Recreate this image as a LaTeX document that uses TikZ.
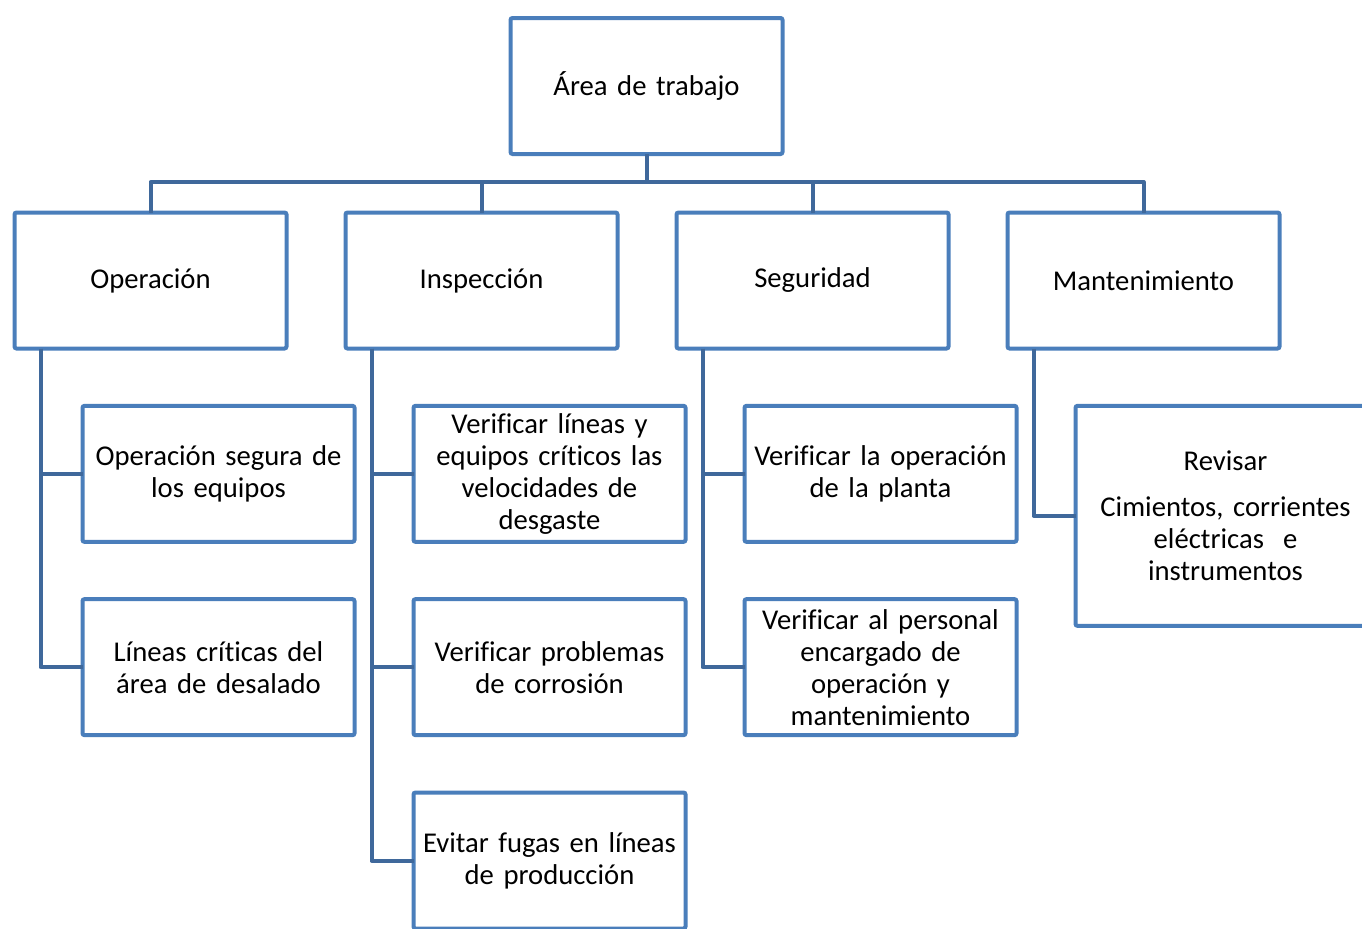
\documentclass[tikz,border=0pt]{standalone}
\usepackage{fontspec}
\setmainfont{Carlito}[Ligatures=NoCommon]
\usetikzlibrary{positioning}

\definecolor{boxblue}{RGB}{74,126,187}
\definecolor{linkblue}{RGB}{63,104,155}

\tikzset{
  box/.style={draw=boxblue, line width=3pt, rounded corners=1.5pt, fill=white,
    minimum width=204pt, minimum height=102pt, outer sep=0pt, inner xsep=0pt,
    align=center, text width=200pt, font=\fontsize{21.5pt}{24pt}\selectfont},
  link/.style={draw=linkblue, line width=3pt, line join=round},
}

\begin{document}
\begin{tikzpicture}[x=0.75pt, y=-0.75pt]
  \path[use as bounding box, clip] (0,0) rectangle (1362,928);

  % top
  \node[box] (area) at (646.5,86) {Área de trabajo};

  % second row
  \node[box] (oper) at (150.5,280.5) {Operación};
  \node[box, right=44.25pt of oper] (insp) {Inspección};
  \node[box, right=44.25pt of insp] (segu) {Seguridad};
  \node[box, right=44.25pt of segu] (mant) {Mantenimiento};

  % operacion
  \node[box, below right=43pt and -153pt of oper] (op1) {Operación segura de\\los equipos};
  \node[box, below=43pt of op1] (op2) {Líneas críticas del\\área de desalado};

  % inspeccion
  \node[box, below right=43pt and -153pt of insp] (in1) {Verificar líneas y\\equipos críticos las\\velocidades de\\desgaste};
  \node[box, below=43pt of in1] (in2) {Verificar problemas\\de corrosión};
  \node[box, below=43pt of in2] (in3) {Evitar fugas en líneas\\de producción};

  % seguridad
  \node[box, below right=43pt and -153pt of segu] (se1) {Verificar la operación\\de la planta};
  \node[box, below=43pt of se1] (se2) {Verificar al personal\\encargado de\\operación y\\mantenimiento};

  % mantenimiento
  \node[box, minimum width=225pt, minimum height=165pt, text width=220pt,
    below right=43pt and -153pt of mant] (ma1) {Revisar\\[10pt]Cimientos, corrientes\\eléctricas~ e\\instrumentos};

  % connectors
  \draw[link] (area.south) -- ++(0,28) coordinate (bus);
  \draw[link] (bus) -| (oper.north);
  \draw[link] (bus) -| (insp.north);
  \draw[link] (bus) -| (segu.north);
  \draw[link] (bus) -| (mant.north);

  \draw[link] (oper.south west) ++(26,0) |- (op1.west);
  \draw[link] (oper.south west) ++(26,0) |- (op2.west);
  \draw[link] (insp.south west) ++(26,0) |- (in1.west);
  \draw[link] (insp.south west) ++(26,0) |- (in2.west);
  \draw[link] (insp.south west) ++(26,0) |- (in3.west);
  \draw[link] (segu.south west) ++(26,0) |- (se1.west);
  \draw[link] (segu.south west) ++(26,0) |- (se2.west);
  \draw[link] (mant.south west) ++(26,0) |- (ma1.west);
\end{tikzpicture}
\end{document}
